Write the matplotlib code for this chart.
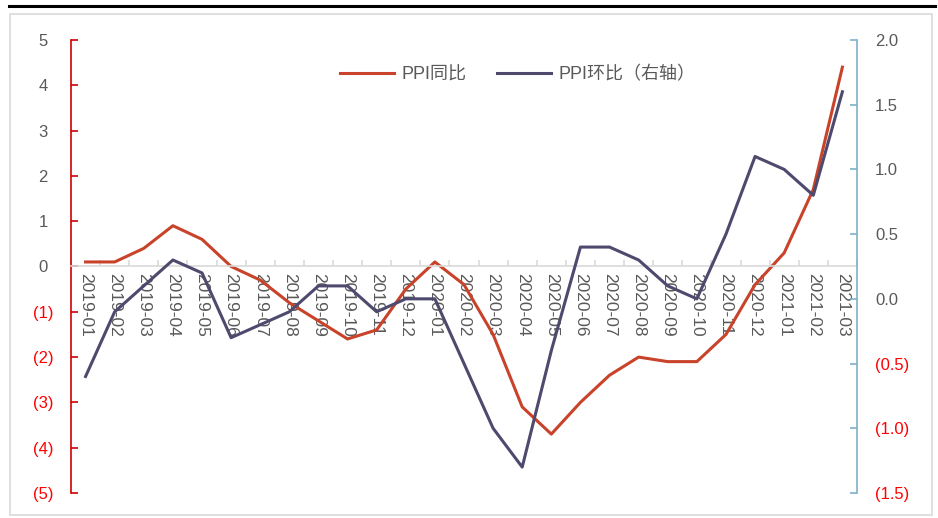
import numpy as np
import matplotlib
matplotlib.use("Agg")
import matplotlib.pyplot as plt
from matplotlib.lines import Line2D
from matplotlib.patches import Rectangle
from matplotlib.ticker import FuncFormatter, FixedLocator

plt.rcParams['font.family'] = ['Liberation Sans', 'Noto Sans CJK SC', 'DejaVu Sans']

months = ["2019-01", "2019-02", "2019-03", "2019-04", "2019-05", "2019-06",
          "2019-07", "2019-08", "2019-09", "2019-10", "2019-11", "2019-12",
          "2020-01", "2020-02", "2020-03", "2020-04", "2020-05", "2020-06",
          "2020-07", "2020-08", "2020-09", "2020-10", "2020-11", "2020-12",
          "2021-01", "2021-02", "2021-03"]
ppi_yoy = [0.1, 0.1, 0.4, 0.9, 0.6, 0.0, -0.3, -0.8, -1.2, -1.6, -1.4, -0.5,
           0.1, -0.4, -1.5, -3.1, -3.7, -3.0, -2.4, -2.0, -2.1, -2.1, -1.5, -0.4,
           0.3, 1.7, 4.4]
ppi_mom = [-0.6, -0.1, 0.1, 0.3, 0.2, -0.3, -0.2, -0.1, 0.1, 0.1, -0.1, 0.0,
           0.0, -0.5, -1.0, -1.3, -0.4, 0.4, 0.4, 0.3, 0.1, 0.0, 0.5, 1.1,
           1.0, 0.8, 1.6]
left_ticks = [-5, -4, -3, -2, -1, 0, 1, 2, 3, 4, 5]
right_ticks = [-1.5, -1.0, -0.5, 0.0, 0.5, 1.0, 1.5, 2.0]

red_line = "#C8432A"
purple_line = "#4D4A6E"
gray_txt = "#595959"
neg_red = "#FF0000"

fig = plt.figure(figsize=(9.38, 5.18), dpi=100)
ax = fig.add_axes([0.0757, 0.0483, 0.8379, 0.8745])
ax2 = ax.twinx()

x = np.arange(len(months))
ax.plot(x, ppi_yoy, color=red_line, lw=2.2, label="PPI同比")
ax2.plot(x, ppi_mom, color=purple_line, lw=2.2, label="PPI环比（右轴）")

ax.set_xlim(-0.5, len(months) - 0.5)
ax.set_ylim(-5, 5)
ax2.set_ylim(-1.5, 2.0)

# left axis
ax.set_yticks(left_ticks)
ax.yaxis.set_major_formatter(FuncFormatter(lambda v, p: "%d" % v if v >= 0 else "(%d)" % -v))
ax.tick_params(axis='y', direction='in', length=5, width=1.2, color='#D00000',
               labelsize=12, pad=20)
for lab, v in zip(ax.get_yticklabels(), left_ticks):
    lab.set_horizontalalignment('center')
    lab.set_color(gray_txt if v >= 0 else neg_red)

# right axis
ax2.set_yticks(right_ticks)
ax2.yaxis.set_major_formatter(FuncFormatter(lambda v, p: "%.1f" % v if v >= 0 else "(%.1f)" % -v))
ax2.tick_params(axis='y', direction='in', length=5, width=1.2, color='#7FB0C8',
                labelsize=12, pad=13)
for lab, v in zip(ax2.get_yticklabels(), right_ticks):
    lab.set_color(gray_txt if v >= 0 else neg_red)

# x axis at zero of the left axis
ax.spines['bottom'].set_position(('data', 0))
ax.spines['bottom'].set_color('#D9D9D9')
ax.spines['bottom'].set_linewidth(1.2)
ax.xaxis.set_major_locator(FixedLocator(np.arange(-0.5, len(months), 1.0)))
ax.xaxis.set_minor_locator(FixedLocator(x))
ax.set_xticklabels([], minor=False)
ax.set_xticklabels(months, minor=True, rotation=-90, fontsize=12.5, color=gray_txt)
ax.tick_params(axis='x', which='major', direction='in', length=4, width=1.2, color='#D9D9D9')
ax.tick_params(axis='x', which='minor', length=0, pad=5)

ax.spines['left'].set_color('#D00000')
ax.spines['left'].set_linewidth(1.2)
ax.spines['top'].set_visible(False)
ax.spines['right'].set_visible(False)
ax2.spines['right'].set_color('#7FB0C8')
ax2.spines['right'].set_linewidth(1.2)
for s in ['top', 'left', 'bottom']:
    ax2.spines[s].set_visible(False)

h1, l1 = ax.get_legend_handles_labels()
h2, l2 = ax2.get_legend_handles_labels()
fig.legend(h1 + h2, l1 + l2, loc='center', bbox_to_anchor=(0.552, 0.855), ncol=2,
           frameon=False, fontsize=13, handlelength=3, handletextpad=0.4,
           columnspacing=1.7, labelcolor=gray_txt)

# outer frame and top rule
fig.add_artist(Rectangle((0.0107, 0.0058), 0.9829, 0.9672, transform=fig.transFigure,
                         fill=False, edgecolor='#D9D9D9', lw=1.2))
fig.add_artist(Line2D([0.0096, 0.997], [0.9875, 0.9875], transform=fig.transFigure,
                      color='black', lw=2.2))

fig.savefig("out.png", dpi=100)
